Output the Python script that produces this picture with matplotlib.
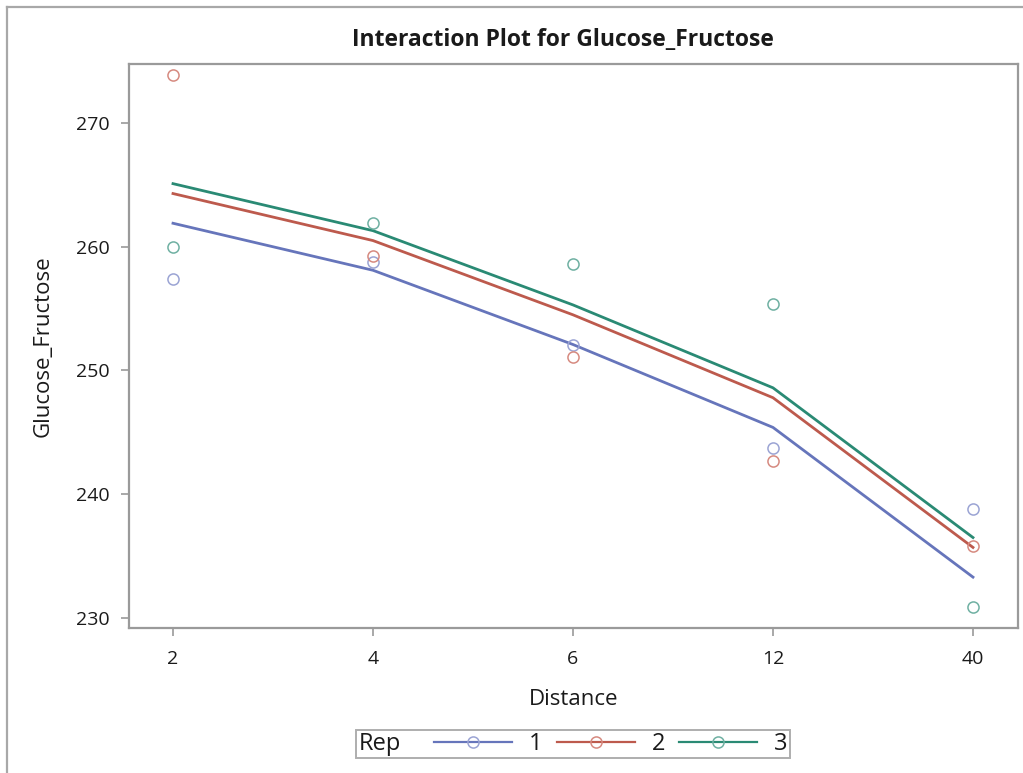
import matplotlib.pyplot as plt
from matplotlib.lines import Line2D
from matplotlib.offsetbox import DrawingArea

plt.rcParams['font.family'] = ['Open Sans', 'DejaVu Sans']

distance = ['2', '4', '6', '12', '40']
reps = ['1', '2', '3']

# observed values per rep
obs_rep1 = [257.4, 258.8, 252.1, 243.7, 238.8]
obs_rep2 = [273.9, 259.25, 251.1, 242.7, 235.8]
obs_rep3 = [260.0, 261.9, 258.6, 255.4, 230.9]

# fitted values per rep
fit_rep1 = [261.9, 258.1, 252.1, 245.4, 233.3]
fit_rep2 = [264.3, 260.5, 254.5, 247.8, 235.7]
fit_rep3 = [265.1, 261.3, 255.3, 248.6, 236.5]

yticks = [230, 240, 250, 260, 270]

line_colors = ['#6675bb', '#bd5a4d', '#2a8a74']
marker_colors = ['#9ba4d4', '#d68a80', '#6fb0a2']
frame_col = '#9a9a9a'
text_col = '#1a1a1a'

fig = plt.figure(figsize=(10.23, 7.73), dpi=100)
ax = fig.add_axes([0.1261, 0.1876, 0.869, 0.7296])

xpos = list(range(len(distance)))
observed = [obs_rep1, obs_rep2, obs_rep3]
fitted = [fit_rep1, fit_rep2, fit_rep3]

handles = []
for i, rep in enumerate(reps):
    ax.plot(xpos, fitted[i], color=line_colors[i], lw=2.0, zorder=2)
    ax.plot(xpos, observed[i], ls='none', marker='o', ms=8,
            mfc='none', mec=marker_colors[i], mew=1.1, zorder=3)
    handles.append(Line2D([], [], color=line_colors[i], lw=1.6,
                          marker='o', ms=8, mfc='none',
                          mec=marker_colors[i], mew=1.1))

ax.set_xlim(-0.22, 4.225)
ax.set_ylim(229.19, 274.77)
ax.set_xticks(xpos)
ax.set_xticklabels(distance)
ax.set_yticks(yticks)

for s in ax.spines.values():
    s.set_color(frame_col)
    s.set_linewidth(1.6)
ax.tick_params(colors=frame_col, labelcolor=text_col, labelsize=14,
               length=6, width=1.2, direction='out')
ax.tick_params(axis='x', pad=10)
ax.tick_params(axis='y', pad=8)

ax.set_xlabel('Distance', fontsize=16, color=text_col, labelpad=15)
ax.set_ylabel('Glucose_Fructose', fontsize=16, color=text_col, labelpad=16)
fig.text(0.55, 0.948, 'Interaction Plot for Glucose_Fructose',
         ha='center', va='center', fontsize=16.5, fontweight='bold',
         color=text_col)

leg = fig.legend(handles, reps, title='Rep', ncol=3, loc='center',
                 bbox_to_anchor=(0.56, 0.0375), fontsize=17,
                 title_fontsize=17, handlelength=3.3, handletextpad=0.72,
                 columnspacing=0.6, borderpad=0.1, frameon=True,
                 fancybox=False, numpoints=1)
leg.get_frame().set_edgecolor(frame_col)
leg.get_frame().set_linewidth(1.4)
for t in leg.get_texts():
    t.set_color(text_col)
leg.get_title().set_color(text_col)

# put the legend title on the left of the entries, with a small gap
box = leg.get_children()[0]
title_box, entries = box.get_children()
box._children = [entries]
entries._children = [title_box, DrawingArea(4, 1)] + entries.get_children()
entries.sep = 10

# outer graph border (left and top edges)
fig.add_artist(Line2D([0.0068, 0.0068], [0, 0.991], color='#a8a8a8', lw=1.6))
fig.add_artist(Line2D([0.0068, 1], [0.991, 0.991], color='#a8a8a8', lw=1.6))

fig.savefig('out.png', dpi=100)
